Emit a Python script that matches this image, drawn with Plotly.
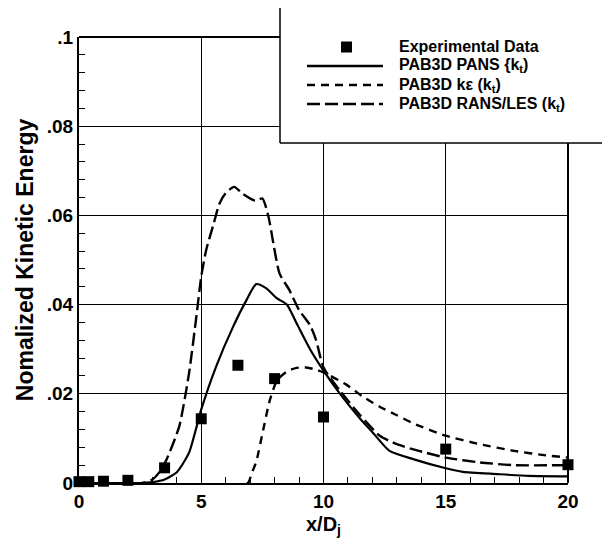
import plotly.graph_objects as go

# ---------------- data ----------------
exp_x = [0, 0.4, 1, 2, 3.5, 5, 6.5, 8, 10, 15, 20]
exp_y = [0.0003, 0.0003, 0.0004, 0.0006, 0.0034, 0.0144, 0.0264, 0.0234, 0.0148, 0.0076, 0.0041]

pans_x = [0, 2.5, 3.0, 3.5, 4.0, 4.5, 5.0, 5.6, 6.3, 6.85, 7.25, 7.65, 8.1, 8.5, 8.9,
          9.45, 10, 10.7, 11.5, 12.0, 12.7, 13.7, 15, 15.7, 17.1, 18.4, 20]
pans_y = [0, 0, 0.0002, 0.0008, 0.0024, 0.0068, 0.0165, 0.026, 0.035, 0.041, 0.0446,
          0.0437, 0.0414, 0.040, 0.0358, 0.030, 0.0252, 0.0198, 0.0144, 0.0114, 0.0072,
          0.0053, 0.0033, 0.0025, 0.002, 0.0016, 0.0015]

ke_x = [0, 6.9, 7.05, 7.25, 7.5, 7.8, 8.1, 8.5, 8.9, 9.3, 9.7, 10, 10.95, 11.6, 12.3,
        13, 13.7, 15, 16.4, 17.8, 19.1, 20]
ke_y = [0, 0, 0.002, 0.0048, 0.011, 0.0185, 0.023, 0.025, 0.0258, 0.0259, 0.0254,
        0.0248, 0.022, 0.0194, 0.0171, 0.0152, 0.0133, 0.0106, 0.0087, 0.0072, 0.0062, 0.0057]

rl_x = [0, 2.6, 3.0, 3.3, 3.6, 4.1, 4.5, 4.8, 5.0, 5.2, 5.5, 5.75, 6.0, 6.35, 6.7, 7.2,
        7.5, 7.75, 7.95, 8.2, 8.6, 9.0, 9.45, 9.7, 10, 10.7, 11.5, 12.3, 13, 13.9, 15,
        16.4, 17.8, 20]
rl_y = [0, 0, 0.0008, 0.0025, 0.0055, 0.0127, 0.0246, 0.0373, 0.0463, 0.0522, 0.058,
        0.0627, 0.065, 0.0664, 0.0648, 0.0633, 0.0638, 0.0597, 0.0537, 0.047, 0.0433,
        0.0388, 0.0354, 0.032, 0.0259, 0.0205, 0.0152, 0.0106, 0.0087, 0.0072, 0.0057,
        0.0046, 0.004, 0.004]

series_names = ["Experimental Data", "PAB3D PANS {k<sub>t</sub>)",
                "PAB3D kε (k<sub>t</sub>)", "PAB3D RANS/LES (k<sub>t</sub>)"]

x_ticks = [0, 5, 10, 15, 20]
x_ticklabels = ["0", "5", "10", "15", "20"]
y_ticks = [0, 0.02, 0.04, 0.06, 0.08, 0.1]
y_ticklabels = ["0", ".02", ".04", ".06", ".08", ".1"]

# ---------------- figure ----------------
# page body has an 8px margin, so the figure is shrunk by 8px and margins adjusted
OFF = 8
W, H = 610 - OFF, 548 - OFF
PL, PR, PT, PB = 79, 568, 37, 483          # plot area in page pixels
ML, MR, MT, MB = PL - OFF, 610 - PR, PT - OFF, 548 - PB
PW, PH = PR - PL, PB - PT

FONT = "Liberation Sans, Arial, sans-serif"
KE_DASH = "8px,6px"
RL_DASH = "13px,5px"

fig = go.Figure()
fig.add_trace(go.Scatter(x=pans_x, y=pans_y, mode="lines", name=series_names[1],
                         line=dict(color="black", width=2.2, shape="spline", smoothing=0.6),
                         showlegend=False))
fig.add_trace(go.Scatter(x=ke_x, y=ke_y, mode="lines", name=series_names[2],
                         line=dict(color="black", width=2.4, dash=KE_DASH, shape="spline", smoothing=0.6),
                         showlegend=False))
fig.add_trace(go.Scatter(x=rl_x, y=rl_y, mode="lines", name=series_names[3],
                         line=dict(color="black", width=2.4, dash=RL_DASH, shape="spline", smoothing=0.6),
                         showlegend=False))
fig.add_trace(go.Scatter(x=exp_x, y=exp_y, mode="markers", name=series_names[0],
                         marker=dict(symbol="square", size=11, color="black"),
                         showlegend=False, cliponaxis=False))

tickfont = dict(family=FONT, size=19, color="black", weight="bold")

fig.update_layout(
    width=W, height=H,
    margin=dict(l=ML, r=MR, t=MT, b=MB),
    paper_bgcolor="white", plot_bgcolor="white",
    font=dict(family=FONT, color="black"),
    xaxis=dict(
        range=[0, 20], tickvals=x_ticks, ticktext=x_ticklabels,
        showgrid=True, gridcolor="black", gridwidth=1,
        showline=True, linecolor="black", linewidth=2, mirror=False,
        ticks="inside", ticklen=8, tickcolor="black", tickwidth=1,
        minor=dict(dtick=1, ticks="inside", ticklen=6, tickcolor="black", tickwidth=1, showgrid=False),
        tickfont=tickfont, zeroline=False,
        title=dict(text="x/D<sub>j</sub>", font=dict(size=20, weight="bold", family=FONT), standoff=6),
    ),
    yaxis=dict(
        range=[0, 0.1], tickvals=y_ticks, ticktext=y_ticklabels,
        showgrid=True, gridcolor="black", gridwidth=1,
        showline=True, linecolor="black", linewidth=2, mirror=False,
        ticks="inside", ticklen=8, tickcolor="black", tickwidth=1,
        minor=dict(dtick=0.004, ticks="inside", ticklen=6, tickcolor="black", tickwidth=1, showgrid=False),
        tickfont=tickfont, zeroline=False,
        title=dict(text="Nomalized Kinetic Energy", font=dict(size=23, weight="bold", family=FONT),
                   standoff=7),
    ),
)

# ---------------- frame + legend box (manual) ----------------
def px(xp):
    return (xp - PL) / PW

def py(yp):
    return (PB - yp) / PH

BOX_L, BOX_R, BOX_T, BOX_B = 280, 609, 4, 143
edge = dict(color="black", width=1.5)
shapes = [
    # top and right frame lines, only where the legend box does not cover them
    dict(type="line", xref="paper", yref="paper", x0=0, x1=px(BOX_L), y0=1, y1=1,
         line=dict(color="black", width=2), layer="above"),
    dict(type="line", xref="paper", yref="paper", x0=1, x1=1, y0=0, y1=py(BOX_B),
         line=dict(color="black", width=2), layer="above"),
    # legend box: white fill + left/top/bottom edges
    dict(type="rect", xref="paper", yref="paper", x0=px(BOX_L), x1=px(BOX_R),
         y0=py(BOX_B), y1=py(BOX_T), fillcolor="white", line=dict(width=0), layer="above"),
    dict(type="line", xref="paper", yref="paper", x0=px(BOX_L), x1=px(BOX_L),
         y0=py(BOX_B), y1=py(BOX_T), line=edge, layer="above"),
    dict(type="line", xref="paper", yref="paper", x0=px(BOX_L), x1=px(BOX_R),
         y0=py(BOX_B), y1=py(BOX_B), line=edge, layer="above"),
    dict(type="line", xref="paper", yref="paper", x0=px(BOX_L), x1=px(BOX_R),
         y0=py(BOX_T), y1=py(BOX_T), line=edge, layer="above"),
]
row_y = [47, 66, 85, 104]
shapes.append(dict(type="rect", xref="paper", yref="paper",
                   x0=px(341), x1=px(352), y0=py(row_y[0] + 5.5), y1=py(row_y[0] - 5.5),
                   fillcolor="black", line=dict(width=0), layer="above"))
line_styles = [dict(color="black", width=2.4),
               dict(color="black", width=2.6, dash=KE_DASH),
               dict(color="black", width=2.6, dash=RL_DASH)]
for i, ls in enumerate(line_styles):
    shapes.append(dict(type="line", xref="paper", yref="paper",
                       x0=px(307), x1=px(383), y0=py(row_y[i + 1]), y1=py(row_y[i + 1]),
                       line=ls, layer="above"))
fig.update_layout(shapes=shapes)

for i, name in enumerate(series_names):
    fig.add_annotation(xref="paper", yref="paper", x=px(397), y=py(row_y[i]),
                       text=name, showarrow=False, xanchor="left", yanchor="middle",
                       font=dict(size=16, weight="bold", color="black", family=FONT))

fig.write_html("out.html")
